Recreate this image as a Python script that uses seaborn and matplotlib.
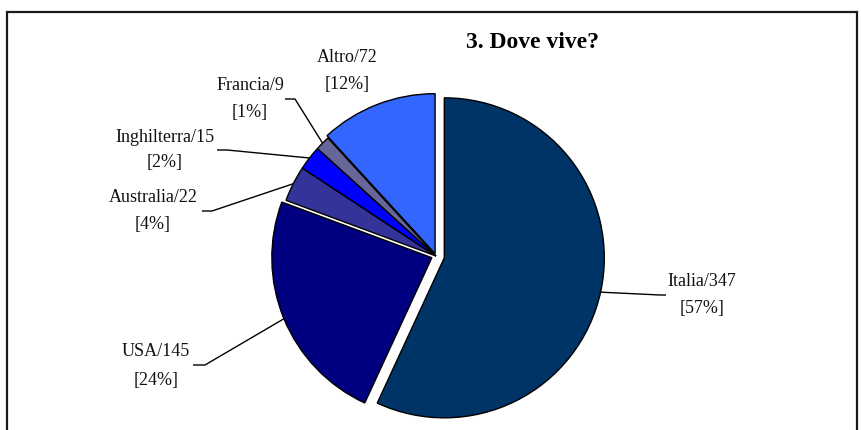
import matplotlib
matplotlib.use("Agg")
import matplotlib.pyplot as plt
import seaborn as sns
import numpy as np
from matplotlib.patches import Rectangle

# ---- data ----
categories = ["Italia", "USA", "Australia", "Inghilterra", "Francia", "Altro"]
counts = [347, 145, 22, 15, 9, 72]
colors = ["#003366", "#000080", "#333399", "#0000FF", "#666699", "#3366FF"]
title = "3. Dove vive?"

# ---- style ----
sns.set_theme(style="white")
plt.rcParams['font.family'] = ['Liberation Serif', 'DejaVu Serif']

W, H = 861, 430
fig = plt.figure(figsize=(W / 100, H / 100), dpi=100)
ax = fig.add_axes([0, 0, 1, 1])

def sy(y):  # screen y (down) -> data y (up)
    return H - y

cx, cy, R = 436, sy(256), 160
explode = [8.5, 4.5, 0, 0, 0, 2.5]

wedges, _ = ax.pie(counts, colors=colors, explode=explode, startangle=90,
                   counterclock=False, center=(cx, cy), radius=R,
                   wedgeprops=dict(edgecolor='black', linewidth=1.0))
ax.set_xlim(0, W)
ax.set_ylim(0, H)
ax.set_aspect('auto')
ax.axis('off')

total = sum(counts)
# label layout: text centre x, line1 y, line2 y, stub (text-side x, elbow x, y) in screen px
layout = {
    "Italia": (702, 282, 308, (666, 660, 295)),
    "USA": (156, 352, 380, (193, 205, 365)),
    "Australia": (153, 198, 225, (202, 212, 211)),
    "Inghilterra": (165, 137, 163, (217, 227, 150)),
    "Francia": (250, 85, 112, (285, 295, 99)),
    "Altro": (347, 57, 85, None),
}

for w, cat, val in zip(wedges, categories, counts):
    tx, y1, y2, stub = layout[cat]
    pct = int(round(val / total * 100))
    ax.text(tx, sy(y1), f"{cat}/{val}", ha='center', va='center',
            fontsize=13, color='#111111')
    ax.text(tx, sy(y2), f"[{pct}%]", ha='center', va='center',
            fontsize=13, color='#111111')
    if stub is not None:
        tm = np.deg2rad((w.theta1 + w.theta2) / 2)
        ex = w.center[0] + w.r * np.cos(tm)
        ey = w.center[1] + w.r * np.sin(tm)
        xs, xe, yst = stub
        ax.plot([xs, xe, ex], [sy(yst), sy(yst), ey], color='black', lw=1.0,
                solid_capstyle='butt')

ax.text(532.5, sy(42), title, ha='center', va='center', fontsize=17,
        fontweight='bold', color='black')

ax.add_patch(Rectangle((7, -30), 850, 30 + sy(12), fill=False,
                       edgecolor='#1a1a1a', lw=1.6, clip_on=False))

fig.savefig("out.png", dpi=100)
